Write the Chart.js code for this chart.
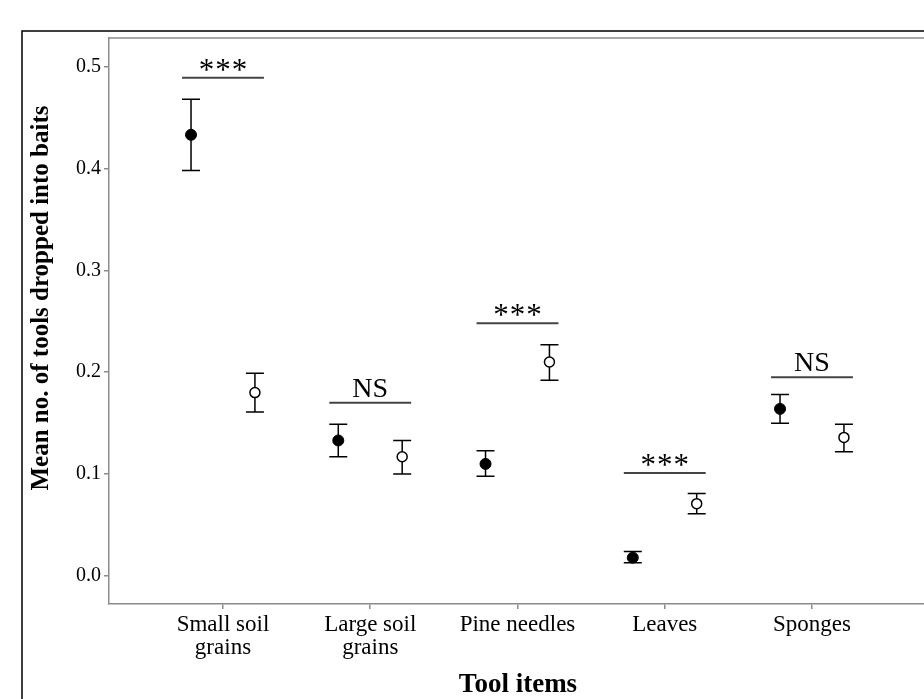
<!DOCTYPE html>
<html>
<head>
<meta charset="utf-8">
<script src="https://cdn.jsdelivr.net/npm/chart.js@4.4.1/dist/chart.umd.min.js"></script>
<style>
html, body { margin: 0; padding: 0; overflow: hidden; background: #fff; }
</style>
</head>
<body>
<canvas id="dropChart" width="940" height="699"></canvas>
<script>
// values
const categories = [['Small soil', 'grains'], ['Large soil', 'grains'], ['Pine needles'], ['Leaves'], ['Sponges']];

const solidMean = [0.433, 0.133, 0.110, 0.018, 0.164];
const solidLow  = [0.398, 0.117, 0.098, 0.013, 0.150];
const solidHigh = [0.468, 0.149, 0.123, 0.024, 0.178];

const openMean = [0.180, 0.117, 0.210, 0.071, 0.136];
const openLow  = [0.161, 0.100, 0.192, 0.061, 0.122];
const openHigh = [0.199, 0.133, 0.227, 0.081, 0.149];

const sigText  = ['***', 'NS', '***', '***', 'NS'];
const sigLevel = [0.489, 0.170, 0.248, 0.101, 0.195];

const yTicks = [0, 0.1, 0.2, 0.3, 0.4, 0.5];

const serif = "'Liberation Serif', 'Times New Roman', serif";
const axisGrey = '#8c8c8c';
const dodge = 0.217;     // offset of the two markers from the category tick
const sigHalf = 0.278;   // half length of the significance bar
const capHalf = 9;       // error bar cap, px

// category index moved left or right by the dodge
const makePoints = (means, shift) => means.map((m, i) => ({ x: i + shift, y: m }));

const frame = {
    id: 'frame',
    beforeDraw(chart) {
        const { ctx, chartArea: a } = chart;
        ctx.save();
        ctx.fillStyle = '#fff';
        ctx.fillRect(0, 0, chart.width, chart.height);
        ctx.strokeStyle = '#000';
        ctx.lineWidth = 1.5;
        ctx.beginPath();
        ctx.moveTo(22, chart.height);
        ctx.lineTo(22, 31);
        ctx.lineTo(chart.width, 31);
        ctx.stroke();
        ctx.strokeStyle = axisGrey;
        ctx.beginPath();
        ctx.moveTo(a.left, a.top);
        ctx.lineTo(a.right, a.top);
        ctx.stroke();
        ctx.restore();
    }
};

const errorBars = {
    id: 'errorBars',
    beforeDatasetsDraw(chart) {
        const { ctx, scales: { x, y } } = chart;
        ctx.save();
        ctx.strokeStyle = '#000';
        ctx.lineWidth = 1.5;
        chart.data.datasets.forEach(ds => {
            ds.data.forEach((p, i) => {
                const px = x.getPixelForValue(p.x);
                const top = y.getPixelForValue(ds.high[i]);
                const bot = y.getPixelForValue(ds.low[i]);
                ctx.beginPath();
                ctx.moveTo(px, top); ctx.lineTo(px, bot);
                ctx.moveTo(px - capHalf, top); ctx.lineTo(px + capHalf, top);
                ctx.moveTo(px - capHalf, bot); ctx.lineTo(px + capHalf, bot);
                ctx.stroke();
            });
        });
        ctx.restore();
    }
};

const sigMarks = {
    id: 'sigMarks',
    afterDatasetsDraw(chart) {
        const { ctx, scales: { x, y } } = chart;
        ctx.save();
        sigText.forEach((t, i) => {
            const ly = y.getPixelForValue(sigLevel[i]);
            ctx.strokeStyle = '#444';
            ctx.lineWidth = 2;
            ctx.beginPath();
            ctx.moveTo(x.getPixelForValue(i - sigHalf), ly);
            ctx.lineTo(x.getPixelForValue(i + sigHalf), ly);
            ctx.stroke();
            ctx.fillStyle = '#000';
            ctx.textAlign = 'center';
            ctx.textBaseline = 'alphabetic';
            if (t === '***') {
                ctx.font = '31px ' + serif;
                ctx.letterSpacing = '1px';
                ctx.fillText(t, x.getPixelForValue(i) + 0.5, ly + 2);
            } else {
                ctx.font = '28px ' + serif;
                ctx.letterSpacing = '0px';
                ctx.fillText(t, x.getPixelForValue(i), ly - 6);
            }
        });
        ctx.restore();
    }
};

// y title drawn by hand so it sits where the original has it
const yTitle = {
    id: 'yTitle',
    afterDraw(chart) {
        const ctx = chart.ctx;
        ctx.save();
        ctx.translate(42, 298);
        ctx.rotate(-Math.PI / 2);
        ctx.fillStyle = '#000';
        ctx.font = 'bold 25px ' + serif;
        ctx.textAlign = 'center';
        ctx.textBaseline = 'middle';
        ctx.fillText('Mean no. of tools dropped into baits', 0, 0);
        ctx.restore();
    }
};

const data = {
    datasets: [
        {
            label: 'solid',
            data: makePoints(solidMean, -dodge),
            low: solidLow,
            high: solidHigh,
            pointRadius: 5.5,
            pointBackgroundColor: '#000',
            pointBorderColor: '#000',
            pointBorderWidth: 1
        },
        {
            label: 'open',
            data: makePoints(openMean, dodge),
            low: openLow,
            high: openHigh,
            pointRadius: 5,
            pointBackgroundColor: '#fff',
            pointBorderColor: '#000',
            pointBorderWidth: 1.5
        }
    ]
};

const config = {
    type: 'scatter',
    data: data,
    options: {
        responsive: false,
        animation: false,
        events: [],
        layout: { padding: { left: 0, top: 38, right: 13, bottom: 0 } },
        plugins: { legend: { display: false }, tooltip: { enabled: false } },
        scales: {
            x: {
                type: 'linear',
                min: -0.774,
                max: 4.781,
                afterBuildTicks: s => { s.ticks = categories.map((c, i) => ({ value: i })); },
                afterFit: s => { s.height = 95; },
                grid: { drawOnChartArea: false, drawTicks: true, tickLength: 5, color: axisGrey, lineWidth: 1.5 },
                border: { display: true, color: axisGrey, width: 1.5 },
                ticks: {
                    autoSkip: false,
                    maxRotation: 0,
                    padding: 4,
                    color: '#000',
                    font: { family: serif, size: 23, lineHeight: 1 },
                    callback: v => categories[v]
                },
                title: {
                    display: true,
                    text: 'Tool items',
                    color: '#000',
                    font: { family: serif, size: 27, weight: 'bold', lineHeight: 1 },
                    padding: { top: 0, bottom: 0.5 }
                }
            },
            y: {
                min: -0.0275,
                max: 0.528,
                afterBuildTicks: s => { s.ticks = yTicks.map(v => ({ value: v })); },
                afterFit: s => { s.width = 109; },
                grid: { drawOnChartArea: false, drawTicks: true, tickLength: 5, color: axisGrey, lineWidth: 1.5 },
                border: { display: true, color: axisGrey, width: 1.5 },
                ticks: {
                    padding: 3,
                    color: '#000',
                    font: { family: serif, size: 20 },
                    callback: v => v.toFixed(1)
                }
            }
        }
    },
    plugins: [frame, errorBars, sigMarks, yTitle]
};

const dropChart = new Chart(document.getElementById('dropChart'), config);
</script>
</body>
</html>
